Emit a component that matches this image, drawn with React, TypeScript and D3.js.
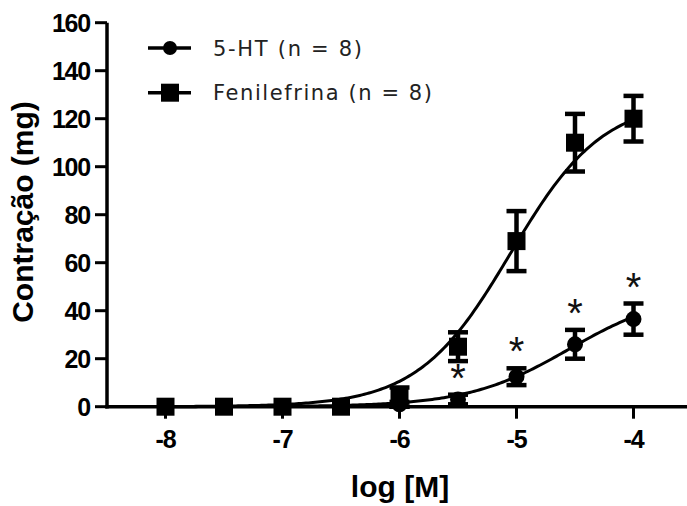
import React from "react";
import * as d3 from "d3";

const concentrations = [-8, -7.5, -7, -6.5, -6, -5.5, -5, -4.5, -4];
const htMeans = [0, 0, 0, 0, 1, 3, 12.5, 26, 36.5];
const htSem = [0, 0, 0, 0, 1, 2, 3.5, 6, 6.5];
const fenMeans = [0, 0, 0, 0, 4, 25, 69, 110, 120];
const fenSem = [0, 0, 0, 0, 4, 6, 12.5, 12, 9.5];
const starConcs = [-5.5, -5, -4.5, -4];

// fitted sigmoid parameters (top, logEC50, hill)
const htFit = { top: 48, logEC50: -4.55, hill: 1.0 };
const fenFit = { top: 128, logEC50: -5.05, hill: 1.1 };

const xTicks = [-8, -7, -6, -5, -4];
const yTicks = [0, 20, 40, 60, 80, 100, 120, 140, 160];
const legendLabels = ["5-HT (n = 8)", "Fenilefrina (n = 8)"];

const W = 687;
const H = 506;

export default function App() {
  const x = d3.scaleLinear().domain([-8.5, -3.5]).range([107, 692]);
  const y = d3.scaleLinear().domain([0, 160]).range([406.7, 22.7]);

  const sig = (p: { top: number; logEC50: number; hill: number }) => (v: number) =>
    p.top / (1 + Math.pow(10, (p.logEC50 - v) * p.hill));

  const xs = d3.range(-8, -3.999, 0.02);
  const mkPath = (f: (v: number) => number) =>
    d3
      .line<number>()
      .x((d) => x(d))
      .y((d) => y(f(d)))(xs) as string;

  const htPath = mkPath(sig(htFit));
  const fenPath = mkPath(sig(fenFit));

  const font = "'Liberation Sans', Arial, sans-serif";
  const capW = 20;
  const sq = 18;
  const cr = 8;

  const errBar = (cx: number, m: number, s: number, key: string) => {
    if (s <= 0) return null;
    const y1 = y(m + s);
    const y2 = y(m - s);
    return (
      <g key={key} stroke="#000" strokeWidth={4.5}>
        <line x1={cx} x2={cx} y1={y1} y2={y2} />
        <line x1={cx - capW / 2} x2={cx + capW / 2} y1={y1} y2={y1} />
        <line x1={cx - capW / 2} x2={cx + capW / 2} y1={y2} y2={y2} />
      </g>
    );
  };

  return (
    <svg
      width={W}
      height={H}
      style={{ position: "absolute", left: 0, top: 0, background: "#fff" }}
    >
      <rect x={0} y={0} width={W} height={H} fill="#fff" />
      {/* curves */}
      <path d={htPath} fill="none" stroke="#000" strokeWidth={3} />
      <path d={fenPath} fill="none" stroke="#000" strokeWidth={3} />

      {/* axes */}
      <line x1={107} x2={107} y1={y(160)} y2={y(0) + 1.75} stroke="#000" strokeWidth={3.5} />
      <line x1={105.25} x2={W} y1={y(0)} y2={y(0)} stroke="#000" strokeWidth={3.5} />
      {yTicks.map((t) => (
        <g key={"yt" + t}>
          <line x1={95} x2={107} y1={y(t)} y2={y(t)} stroke="#000" strokeWidth={3} />
          <text
            x={90}
            y={y(t)}
            dy="0.36em"
            textAnchor="end"
            fontFamily={font}
            fontWeight="bold"
            fontSize={25}
            letterSpacing={-1.2}
            fill="#000"
          >
            {t}
          </text>
        </g>
      ))}
      {xTicks.map((t) => (
        <g key={"xt" + t}>
          <line x1={x(t)} x2={x(t)} y1={y(0)} y2={y(0) + 12} stroke="#000" strokeWidth={3} />
          <text
            x={x(t)}
            y={448}
            textAnchor="middle"
            fontFamily={font}
            fontWeight="bold"
            fontSize={25}
            letterSpacing={-1.2}
            fill="#000"
          >
            {t}
          </text>
        </g>
      ))}

      {/* 5-HT points */}
      {concentrations.map((c, i) => errBar(x(c), htMeans[i], htSem[i], "he" + i))}
      {concentrations.map((c, i) => (
        <circle key={"hc" + i} cx={x(c)} cy={y(htMeans[i])} r={cr} fill="#000" />
      ))}
      {/* Fenilefrina points */}
      {concentrations.map((c, i) => errBar(x(c), fenMeans[i], fenSem[i], "fe" + i))}
      {concentrations.map((c, i) => (
        <rect
          key={"fr" + i}
          x={x(c) - sq / 2}
          y={y(fenMeans[i]) - sq / 2}
          width={sq}
          height={sq}
          fill="#000"
        />
      ))}

      {/* asterisks */}
      {starConcs.map((c) => {
        const i = concentrations.indexOf(c);
        return (
          <text
            key={"st" + c}
            x={x(c)}
            y={y(htMeans[i] + htSem[i]) - 3}
            textAnchor="middle"
            fontFamily={font}
            fontSize={40}
            fill="#111"
          >
            *
          </text>
        );
      })}

      {/* legend */}
      {legendLabels.map((lab, i) => {
        const ly = i === 0 ? 48 : 92.7;
        return (
          <g key={"lg" + i}>
            <line x1={148} x2={191} y1={ly} y2={ly} stroke="#000" strokeWidth={3.5} />
            {i === 0 ? (
              <circle cx={170} cy={ly} r={7} fill="#000" />
            ) : (
              <rect x={170 - 9} y={ly - 9} width={18} height={18} fill="#000" />
            )}
            <text
              x={213}
              y={ly + 7.5}
              fontFamily="'DejaVu Sans', Verdana, sans-serif"
              fontSize={21}
              fill="#222"
              textLength={i === 0 ? 149 : 219}
              lengthAdjust="spacing"
            >
              {lab}
            </text>
          </g>
        );
      })}

      {/* axis titles */}
      <text
        x={400}
        y={497}
        textAnchor="middle"
        fontFamily={font}
        fontWeight="bold"
        fontSize={30}
        fill="#000"
      >
        log [M]
      </text>
      <text
        transform={`translate(33, 212) rotate(-90)`}
        textAnchor="middle"
        fontFamily={font}
        fontWeight="bold"
        fontSize={30}
        fill="#000"
      >
        Contração (mg)
      </text>
    </svg>
  );
}
